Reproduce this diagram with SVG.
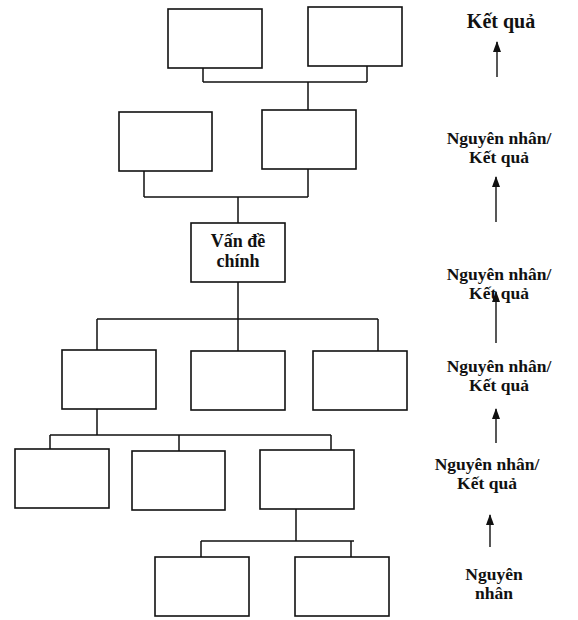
<svg xmlns="http://www.w3.org/2000/svg" width="578" height="620" viewBox="0 0 578 620">
<style>
.box{fill:#fff;stroke:#111;stroke-width:1.6}
.ln{fill:none;stroke:#111;stroke-width:1.5}
.arr{fill:none;stroke:#111;stroke-width:1.4}
.t{font-family:"Liberation Serif","Times New Roman",serif;font-weight:bold;fill:#111;text-anchor:middle}
.lb{font-size:17.5px}
</style>
<defs>
<marker id="ah" markerUnits="userSpaceOnUse" markerWidth="12" markerHeight="8" refX="10" refY="4" orient="auto" viewBox="0 0 12 8">
<path d="M0,0 L11,4 L0,8 Z" fill="#111"/>
</marker>
</defs>
<rect width="578" height="620" fill="#fff"/>
<g id="connectors">
<path class="ln" d="M203,68 V82 M367,66 V82 M203,82 H367 M308,82 V110"/>
<path class="ln" d="M144,171 V197 M308,169 V197 M144,197 H308 M238,197 V223"/>
<path class="ln" d="M238,282 V351 M97,319 H378 M97,319 V350 M378,319 V351"/>
<path class="ln" d="M97,409 V435 M50,435 H331 M50,435 V449 M179,435 V451 M331,435 V450"/>
<path class="ln" d="M296,509 V541 M201,541 H354 M201,541 V557 M351,541 V557"/>
</g>
<g id="n1"><rect class="box" x="168" y="9" width="94" height="59"/></g>
<g id="n2"><rect class="box" x="308" y="7" width="94" height="59"/></g>
<g id="n3"><rect class="box" x="119" y="112" width="93" height="59"/></g>
<g id="n4"><rect class="box" x="262" y="110" width="94" height="59"/></g>
<g id="n5"><rect class="box" x="191" y="223" width="94" height="59"/>
<text class="t" x="238" y="247" font-size="18">Vấn đề</text>
<text class="t" x="238" y="267" font-size="18">chính</text></g>
<g id="n6"><rect class="box" x="62" y="350" width="94" height="59"/></g>
<g id="n7"><rect class="box" x="191" y="351" width="94" height="59"/></g>
<g id="n8"><rect class="box" x="313" y="351" width="94" height="59"/></g>
<g id="n9"><rect class="box" x="15" y="449" width="94" height="59"/></g>
<g id="n10"><rect class="box" x="132" y="451" width="93" height="59"/></g>
<g id="n11"><rect class="box" x="260" y="450" width="94" height="59"/></g>
<g id="n12"><rect class="box" x="155" y="557" width="94" height="59"/></g>
<g id="n13"><rect class="box" x="295" y="557" width="94" height="59"/></g>
<g id="labels">
<text class="t" x="501" y="28" font-size="20">Kết quả</text>
<text class="t lb" x="499" y="144">Nguyên nhân/</text>
<text class="t lb" x="499" y="163">Kết quả</text>
<text class="t lb" x="499" y="280">Nguyên nhân/</text>
<text class="t lb" x="499" y="299">Kết quả</text>
<text class="t lb" x="499" y="372">Nguyên nhân/</text>
<text class="t lb" x="499" y="391">Kết quả</text>
<text class="t lb" x="487" y="470">Nguyên nhân/</text>
<text class="t lb" x="487" y="489">Kết quả</text>
<text class="t lb" x="494" y="580">Nguyên</text>
<text class="t lb" x="494" y="599">nhân</text>
</g>
<g id="arrows">
<path class="arr" d="M497,77 V42" marker-end="url(#ah)"/>
<path class="arr" d="M496,222 V177" marker-end="url(#ah)"/>
<path class="arr" d="M496,343 V292" marker-end="url(#ah)"/>
<path class="arr" d="M496,443 V409" marker-end="url(#ah)"/>
<path class="arr" d="M490,547 V515" marker-end="url(#ah)"/>
</g>
</svg>
